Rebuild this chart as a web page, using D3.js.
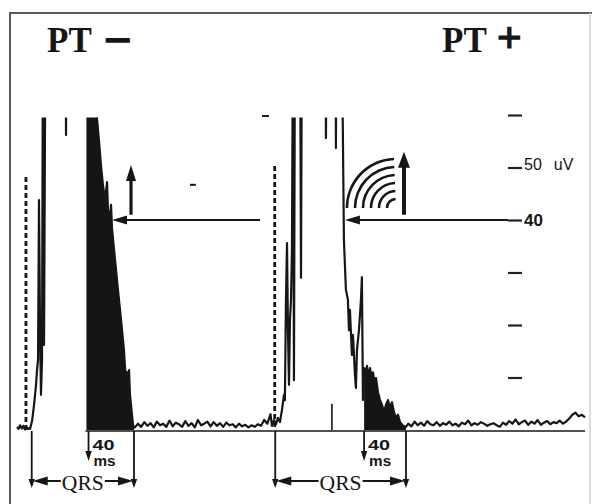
<!DOCTYPE html>
<meta charset="utf-8">
<style>
body { margin: 0; background: #fff; }
svg { display: block; }
.sig { fill: none; stroke: #161616; stroke-width: 2.2px; stroke-linejoin: round; }
.las { fill: #151515; stroke: none; }
.ink { stroke: #161616; fill: none; }
.head { fill: #161616; stroke: none; }
.title { font-family: "Liberation Serif", serif; font-weight: bold; font-size: 35px; fill: #161616; }
.qrs { font-family: "Liberation Serif", serif; font-size: 21px; fill: #161616; }
.ms { font-family: "Liberation Sans", sans-serif; font-weight: bold; fill: #161616; }
.axis line { stroke: #222; stroke-width: 2.2px; }
.axis text { font-family: "Liberation Sans", sans-serif; fill: #161616; }
</style>
<div id="chart"></div>
<script src="https://d3js.org/d3.v7.min.js"></script>
<script>

var width = 595, height = 504;

// panel titles
var titleText = ["PT", "PT"];
var titleSign = ["\u2013", "+"];

// amplitude axis (uV)
var axisTicks = [10, 20, 30, 40, 50, 60];
var axisLabels = ["", "", "", "40", "50", ""];
var levelUV = 40;

// filtered QRS, time in ms, amplitude in uV (80 = off the top)
var preNoise = [0.6, 0.2, 0.9, 0.3, 0.8, 0.1, 0.5, 0.2, 0.4];   // t = 0 .. 12, every 1.5 ms
var qrsLeft = [
  [12.4, 0.2], [14.3, 1.7], [16.2, 4.8], [18.1, 8.6], [19.0, 11.4], [20.0, 13.3],
  [20.9, 43.8], [21.9, 19.0], [22.8, 6.7], [23.8, 13.3], [24.7, 80], [25.7, 16.2],
  [27.1, 80], [37.1, 85], [46.1, 80], [46.6, 56.2], [47.1, 80], [59.9, 90],
  [66, 88], [75.1, 75], [76, 59.4], [77.9, 55.2], [79.8, 50.5], [81.7, 46.7],
  [83.7, 43.8], [85.6, 47.2], [86.5, 41.9], [88.4, 40.4], [89.4, 42.9], [90.3, 38.5],
  [93.2, 32.4], [96, 26.7], [98.9, 21], [101.7, 15.2], [102.7, 11.8], [103.6, 10.5],
  [104.6, 11], [105.5, 8.6], [106.5, 11.4], [107.4, 6.7], [108.4, 4.8], [109.3, 2.9],
  [110.3, 1], [111.2, 0.4]
];
var midNoise = [0.5, 1.2, 0.6, 1.5, 0.8, 1.3, 0.5, 1.6, 0.9, 1.2, 0.6, 1.8, 0.7, 1.4, 1.1,
  0.6, 1.7, 0.8, 1.3, 0.5, 1.9, 0.9, 1.2, 1.6, 0.7, 1.5, 0.8, 1.3, 0.6, 1.4, 0.9, 1.1,
  0.5, 1.2, 0.7, 1.0, 0.5, 0.9, 0.6, 1.1, 0.8, 1.9, 1.2, 3.0];   // t = 112 .. 241, every 3 ms
var qrsRight = [
  [242.4, 0.8], [244.3, 1.9], [246.2, 1.1], [248.1, 2.3], [250, 1.5], [251.9, 3.8],
  [253.8, 6.7], [254.7, 5.7], [255.7, 24.8], [256.7, 35.6], [257.6, 19], [258.6, 8.6],
  [259.5, 21], [260.5, 24.8], [261.4, 34.3], [262.4, 80], [263.3, 9.5], [264.3, 80],
  [269, 85], [270, 29], [270.9, 80], [293.2, 85], [293.7, 55.6], [294.7, 80],
  [302.8, 85], [303.2, 53.7], [303.7, 80], [308.9, 75], [310.8, 36.2], [312.7, 26.7],
  [314.6, 24.8], [315.6, 19], [316.5, 22.9], [318.4, 14.3], [319.4, 18.1], [321.3, 10.5],
  [322.2, 8], [323.2, 15.2], [325.1, 19], [327, 24.8], [327.9, 29.1], [328.9, 5.7],
  [330, 11.8], [331.7, 11], [332.7, 12.2], [334.6, 9.9], [335.6, 11.8], [337.5, 9.5],
  [338.4, 11], [340.3, 8.6], [341.3, 9.9], [343.2, 7.2], [345.1, 5.7], [347, 4.8],
  [348.9, 3.4], [350.8, 4.8], [352.7, 5.7], [354.6, 4.2], [356.5, 5.3], [358.4, 3.4],
  [360.3, 2.3], [362.2, 2.9], [364.1, 1.5], [367, 0.8], [369.8, 0.6]
];
var postNoise = [1.2, 0.7, 1.6, 0.9, 1.4, 0.8, 1.7, 1.1, 0.9, 1.5, 0.8, 1.3, 1.0, 1.6, 0.9,
  1.2, 0.7, 1.4, 1.1, 1.8, 0.9, 1.3, 1.0, 1.5, 1.2, 0.8, 1.1, 1.3, 0.9, 0.6, 1.4, 1.0,
  1.7, 1.2, 2.0, 1.1, 1.5, 1.8, 1.0, 1.6, 1.2, 1.9, 1.0, 1.4, 1.7, 1.1, 1.5, 1.3, 1.8,
  1.2, 1.6, 2.2, 2.9, 3.3, 2.6, 2.9, 2.4];   // t = 372 .. 540, every 3 ms

// QRS landmarks for the two patients (ms)
var dashT = [8.5, 245];
var dashTopUV = [48.2, 50.3];
var qrsOnset = [14, 245.5];
var qrsEnd = [111.2, 369.8];
var lasStart = [68, 330];
var lasFillFrom = [65, 330];

// arrows
var upArrowT = [108.4, 367.9];
var upArrowFrom = [41, 41];
var upArrowTo = [50.5, 53];
var levelArrowTail = [231, 467];
var levelArrowTip = [90.3, 311.8];
var arcRadii = [9, 17, 25, 33, 41, 49];

// small stray marks on the record
var strayMarks = [[233, 239.5, 59.8], [164.5, 170, 46.7]];
var fiducialT = 299.4, fiducialUV = 5;

var x = d3.scaleLinear().domain([0, 540]).range([17, 585]);
var y = d3.scaleLinear().domain([0, 60]).range([430, 115]);

function sampled(t0, dt, vals) {
  return vals.map(function(v, i) { return [t0 + i * dt, v]; });
}

var signal = sampled(0, 1.5, preNoise)
  .concat(qrsLeft, sampled(112, 3, midNoise), qrsRight, sampled(372, 3, postNoise));

var svg = d3.select("#chart").append("svg")
    .attr("width", width)
    .attr("height", height);

svg.append("defs").append("clipPath").attr("id", "clip")
  .append("rect").attr("x", 10).attr("y", 117.5).attr("width", 580).attr("height", 330);

// frame
svg.append("path").attr("class", "ink").style("stroke", "#5a5a5a")
  .attr("stroke-width", 2).attr("d", "M10,510V13H592");
svg.append("line").attr("x1", 590).attr("x2", 590).attr("y1", 13).attr("y2", 510)
  .style("stroke", "#d0d0d0").attr("stroke-width", 1.5);

// titles
var titleX = [47, 442];
titleText.forEach(function(t, i) {
  var tx = svg.append("text").attr("class", "title").attr("x", titleX[i]).attr("y", 52);
  tx.append("tspan").text(t + " ");
  tx.append("tspan").text(titleSign[i])
    .style("font-size", "44px")
    .attr("dx", i == 0 ? 7 : 2)
    .attr("dy", i == 0 ? -1 : 0)
    .style("stroke", "#161616").style("stroke-width", i == 0 ? 1.6 : 1.2);
});

var plot = svg.append("g").attr("clip-path", "url(#clip)");

// late potential area (last 40 ms) filled black
var area = d3.area()
    .x(function(d) { return x(d[0]); })
    .y0(y(0))
    .y1(function(d) { return y(d[1]); });

lasFillFrom.forEach(function(s, i) {
  var pts = signal.filter(function(d) { return d[0] >= s && d[0] <= qrsEnd[i]; });
  plot.append("path").attr("class", "las").attr("d", area(pts));
});

// baseline
svg.append("line").attr("class", "ink").attr("stroke-width", 1.6)
  .attr("x1", x(lasFillFrom[0])).attr("x2", x(540))
  .attr("y1", y(0) + 1).attr("y2", y(0) + 1);

var line = d3.line()
    .x(function(d) { return x(d[0]); })
    .y(function(d) { return y(d[1]); });

plot.append("path").attr("class", "sig").attr("d", line(signal));

plot.append("line").attr("class", "ink").attr("stroke-width", 1.6)
  .attr("x1", x(fiducialT)).attr("x2", x(fiducialT))
  .attr("y1", y(0)).attr("y2", y(fiducialUV));

strayMarks.forEach(function(m) {
  svg.append("line").attr("class", "ink").attr("stroke-width", 2)
    .attr("x1", x(m[0])).attr("x2", x(m[1])).attr("y1", y(m[2])).attr("y2", y(m[2]));
});

// QRS onset dashed markers
dashT.forEach(function(t, i) {
  svg.append("line").attr("class", "ink").attr("stroke-width", 2.8)
    .attr("stroke-dasharray", "5,3")
    .attr("x1", x(t)).attr("x2", x(t)).attr("y1", y(dashTopUV[i])).attr("y2", y(0));
});

// amplitude axis on the right
var axisX = 508;
var axis = d3.axisRight(y)
    .tickValues(axisTicks)
    .tickSize(14)
    .tickPadding(2)
    .tickFormat(function(d, i) { return axisLabels[i]; });

var ag = svg.append("g").attr("class", "axis").attr("transform", "translate(" + axisX + ",0)").call(axis);
ag.select(".domain").remove();
ag.selectAll("text").each(function(d) {
  var t = d3.select(this);
  if (d == 40) {
    t.style("font-size", "17px").style("font-weight", "bold").attr("dy", "0.35em");
  } else if (d == 50) {
    t.style("font-size", "16px").attr("dy", "0.12em");
    t.append("tspan").attr("dx", 12).text("uV");
  }
});

function headPath(tx, ty, dir, len, hw) {
  // dir: "left", "right", "up", "down"
  var p = d3.path();
  p.moveTo(tx, ty);
  if (dir == "left") { p.lineTo(tx + len, ty - hw); p.lineTo(tx + len, ty + hw); }
  if (dir == "right") { p.lineTo(tx - len, ty - hw); p.lineTo(tx - len, ty + hw); }
  if (dir == "up") { p.lineTo(tx - hw, ty + len); p.lineTo(tx + hw, ty + len); }
  if (dir == "down") { p.lineTo(tx - hw, ty - len); p.lineTo(tx + hw, ty - len); }
  p.closePath();
  return p.toString();
}

// horizontal arrows at the 40 uV level
levelArrowTip.forEach(function(tip, i) {
  var tailX = i == 1 ? axisX : x(levelArrowTail[i]);
  svg.append("line").attr("class", "ink").attr("stroke-width", 1.8)
    .attr("x1", tailX).attr("x2", x(tip) + 10).attr("y1", y(levelUV)).attr("y2", y(levelUV));
  svg.append("path").attr("class", "head").attr("d", headPath(x(tip), y(levelUV), "left", 15, 4.5));
});

// vertical arrows
upArrowT.forEach(function(t, i) {
  svg.append("line").attr("class", "ink").attr("stroke-width", i == 0 ? 3.2 : 4)
    .attr("x1", x(t)).attr("x2", x(t)).attr("y1", y(upArrowFrom[i])).attr("y2", y(upArrowTo[i]) + 12);
  svg.append("path").attr("class", "head").attr("d", headPath(x(t), y(upArrowTo[i]), "up", 16, i == 0 ? 5 : 6));
});

// concentric arcs beside the PT+ arrow
var arc = d3.arc().startAngle(-Math.PI / 2).endAngle(-0.04);
svg.append("g")
    .attr("transform", "translate(" + (x(upArrowT[1]) - 8) + "," + y(42.3) + ")")
  .selectAll("path")
  .data(arcRadii)
  .enter().append("path")
    .attr("class", "head")
    .attr("d", function(r) { return arc({ innerRadius: r - 1.3, outerRadius: r + 1.3 }); });

// QRS duration and 40 ms annotations
var bracketY = 481;
qrsOnset.forEach(function(on, i) {
  var x0 = x(on), x1 = x(qrsEnd[i]), xl = x(lasStart[i]);
  [x0, x1].forEach(function(xx) {
    svg.append("line").attr("class", "ink").attr("stroke-width", 1.8)
      .attr("x1", xx).attr("x2", xx).attr("y1", y(0) + 1).attr("y2", 480);
    svg.append("path").attr("class", "head").attr("d", headPath(xx, 488, "down", 9, 3.2));
  });
  svg.append("line").attr("class", "ink").attr("stroke-width", 1.8)
    .attr("x1", xl).attr("x2", xl).attr("y1", y(0) + 1).attr("y2", 452);
  svg.append("path").attr("class", "head").attr("d", headPath(xl, 461, "down", 10, 3.2));

  svg.append("line").attr("class", "ink").attr("stroke-width", 2)
    .attr("x1", x0 + 8).attr("x2", x1 - 8).attr("y1", bracketY).attr("y2", bracketY);
  svg.append("path").attr("class", "head").attr("d", headPath(x0 + 1, bracketY, "left", 15, 4.5));
  svg.append("path").attr("class", "head").attr("d", headPath(x1 - 1, bracketY, "right", 15, 4.5));

  var cx = (x0 + x1) / 2;
  svg.append("rect").attr("x", cx - 22).attr("y", bracketY - 10).attr("width", 44).attr("height", 20)
    .attr("fill", "#fff");
  svg.append("text").attr("class", "qrs").attr("x", cx).attr("y", 490)
    .attr("text-anchor", "middle").attr("textLength", 42).attr("lengthAdjust", "spacingAndGlyphs")
    .text("QRS");

  svg.append("text").attr("class", "ms").attr("x", xl + 4).attr("y", 450)
    .style("font-size", "15px").attr("textLength", 22).attr("lengthAdjust", "spacingAndGlyphs")
    .text("40");
  svg.append("text").attr("class", "ms").attr("x", xl + 5).attr("y", 466)
    .style("font-size", "14px").attr("textLength", 22).attr("lengthAdjust", "spacingAndGlyphs")
    .text("ms");
});

</script>
